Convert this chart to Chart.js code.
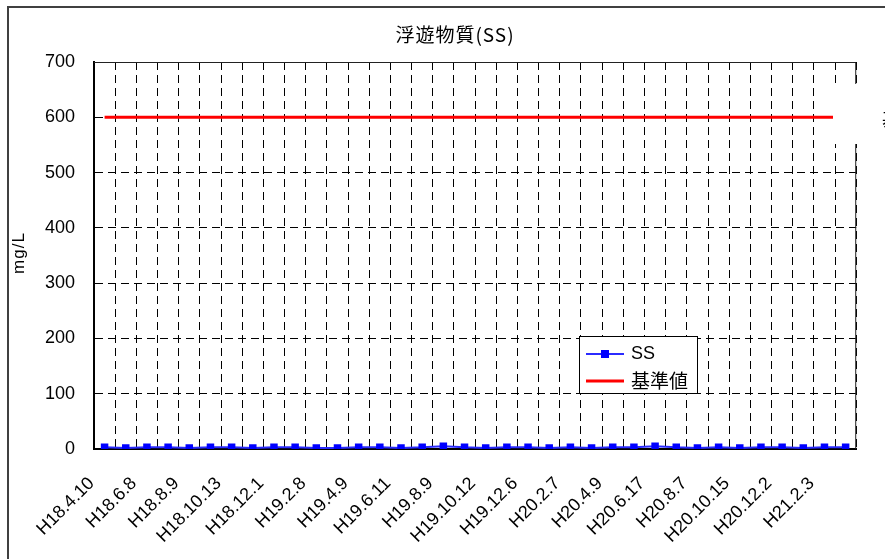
<!DOCTYPE html>
<html>
<head>
<meta charset="utf-8">
<script src="https://cdn.jsdelivr.net/npm/chart.js@4"></script>
<style>
  html, body { margin: 0; padding: 0; background: #fff; }
  #wrap { width: 885px; height: 559px; position: relative; }
</style>
</head>
<body>
<div id="wrap"><canvas id="c" width="885" height="559"></canvas></div>
<script>
// Sampling dates (Heisei era), one per month
const dates = [
  'H18.4.10','H18.5.11','H18.6.8','H18.7.6','H18.8.9','H18.9.7',
  'H18.10.13','H18.11.9','H18.12.1','H19.1.11','H19.2.8','H19.3.8',
  'H19.4.9','H19.5.10','H19.6.11','H19.7.5','H19.8.9','H19.9.6',
  'H19.10.12','H19.11.8','H19.12.6','H20.1.10','H20.2.7','H20.3.6',
  'H20.4.9','H20.5.8','H20.6.17','H20.7.3','H20.8.7','H20.9.4',
  'H20.10.15','H20.11.6','H20.12.2','H21.1.8','H21.2.3','H21.3.5'
];
// Suspended solids, mg/L
const ssValues = [
  3, 2, 3, 3, 2, 3, 3, 2, 3, 3, 2, 2,
  3, 3, 2, 3, 5, 3, 2, 3, 3, 2, 3, 2,
  3, 3, 5, 3, 2, 3, 2, 3, 3, 2, 3, 3
];
// Regulatory limit, mg/L
const limitValues = dates.map(() => 600);
const yMin = 0, yMax = 700, yStep = 100;

const FONT = '"Liberation Sans", Arial, sans-serif';
const CJK = '"Noto Sans CJK JP", "Liberation Sans", sans-serif';

const frame = {
  id: 'frame',
  beforeDraw(chart) {
    const {ctx} = chart;
    ctx.save();
    ctx.fillStyle = '#fff';
    ctx.fillRect(0, 0, chart.width, chart.height);
    ctx.restore();
  },
  beforeDatasetsDraw(chart) {
    const {ctx, chartArea: a} = chart;
    ctx.save();
    ctx.strokeStyle = '#222';
    ctx.lineWidth = 1;
    ctx.beginPath();
    ctx.moveTo(a.left, a.top + 0.5);
    ctx.lineTo(a.right - 0.5, a.top + 0.5);
    ctx.lineTo(a.right - 0.5, a.bottom);
    ctx.stroke();
    ctx.restore();
  },
  afterDraw(chart) {
    const {ctx} = chart;
    ctx.save();
    // outer frame
    ctx.strokeStyle = '#404040';
    ctx.lineWidth = 2;
    ctx.beginPath();
    ctx.moveTo(8, chart.height + 2);
    ctx.lineTo(8, 7);
    ctx.lineTo(chart.width + 2, 7);
    ctx.stroke();

    // title
    ctx.fillStyle = '#000';
    ctx.textAlign = 'center';
    ctx.textBaseline = 'middle';
    ctx.font = '19px ' + CJK;
    ctx.letterSpacing = '1px';
    ctx.fillText('浮遊物質(SS)', 455, 35);
    ctx.letterSpacing = '0px';

    // y axis title
    ctx.save();
    ctx.translate(19, 253);
    ctx.rotate(-Math.PI / 2);
    ctx.font = '17px ' + FONT;
    ctx.letterSpacing = '1px';
    ctx.fillText('mg/L', 0, 0);
    ctx.restore();

    // data label box for the limit line, running off the right edge
    ctx.fillStyle = '#fff';
    ctx.fillRect(833, 84, 60, 60);
    ctx.fillStyle = '#000';
    ctx.textAlign = 'left';
    ctx.font = '18px ' + CJK;
    ctx.fillText('基準値', 882, 119);

    // legend
    const lx = 579, ly = 336, lw = 118, lh = 57;
    ctx.fillStyle = '#fff';
    ctx.fillRect(lx, ly, lw, lh);
    ctx.strokeStyle = '#000';
    ctx.lineWidth = 1;
    ctx.strokeRect(lx + 0.5, ly + 0.5, lw, lh);
    const ds = chart.data.datasets;
    // SS
    ctx.strokeStyle = ds[0].borderColor;
    ctx.lineWidth = 2;
    ctx.beginPath();
    ctx.moveTo(586, 354); ctx.lineTo(624, 354); ctx.stroke();
    ctx.fillStyle = ds[0].pointBackgroundColor;
    ctx.fillRect(601, 350, 8, 8);
    // limit
    ctx.strokeStyle = ds[1].borderColor;
    ctx.lineWidth = 3;
    ctx.beginPath();
    ctx.moveTo(586, 381); ctx.lineTo(624, 381); ctx.stroke();
    ctx.fillStyle = '#000';
    ctx.textBaseline = 'middle';
    ctx.font = '18px ' + FONT;
    ctx.fillText(ds[0].label, 631, 354);
    ctx.font = '19px ' + CJK;
    ctx.fillText(ds[1].label, 631, 381);
    ctx.restore();
  }
};

new Chart(document.getElementById('c'), {
  type: 'line',
  data: {
    labels: dates,
    datasets: [
      {
        label: 'SS',
        data: ssValues,
        borderColor: '#2b2bff',
        borderWidth: 2,
        pointStyle: 'rect',
        pointRadius: 5.3,
        pointBackgroundColor: '#0000ff',
        pointBorderColor: '#0000ff',
        pointBorderWidth: 0,
        tension: 0,
        order: 1
      },
      {
        label: '基準値',
        data: limitValues,
        borderColor: '#ff0000',
        borderWidth: 3,
        pointRadius: 0,
        tension: 0,
        order: 2
      }
    ]
  },
  plugins: [frame],
  options: {
    responsive: false,
    animation: false,
    devicePixelRatio: 1,
    layout: { padding: { left: 0, right: 6, top: 62, bottom: 0 } },
    plugins: {
      legend: { display: false },
      title: { display: false },
      tooltip: { enabled: false }
    },
    scales: {
      x: {
        type: 'category',
        offset: true,
        grid: {
          offset: true,
          color: '#000',
          lineWidth: 1,
          drawTicks: false
        },
        border: { display: true, color: '#000', width: 2, dash: [8, 5] },
        ticks: {
          autoSkip: false,
          maxRotation: 45,
          minRotation: 45,
          padding: 24,
          labelOffset: -13,
          color: '#000',
          font: { family: FONT, size: 18 },
          callback: (v, i) => (i % 2 === 0 ? dates[i] : '')
        },
        afterFit: (s) => { s.height = 110; }
      },
      y: {
        min: yMin,
        max: yMax,
        grid: {
          color: '#000',
          lineWidth: 1,
          drawTicks: false
        },
        border: { display: true, color: '#000', width: 2, dash: [8, 5] },
        ticks: {
          stepSize: yStep,
          padding: 19,
          color: '#000',
          font: { family: FONT, size: 18 }
        },
        afterFit: (s) => { s.width = 94; }
      }
    }
  }
});
</script>
</body>
</html>
